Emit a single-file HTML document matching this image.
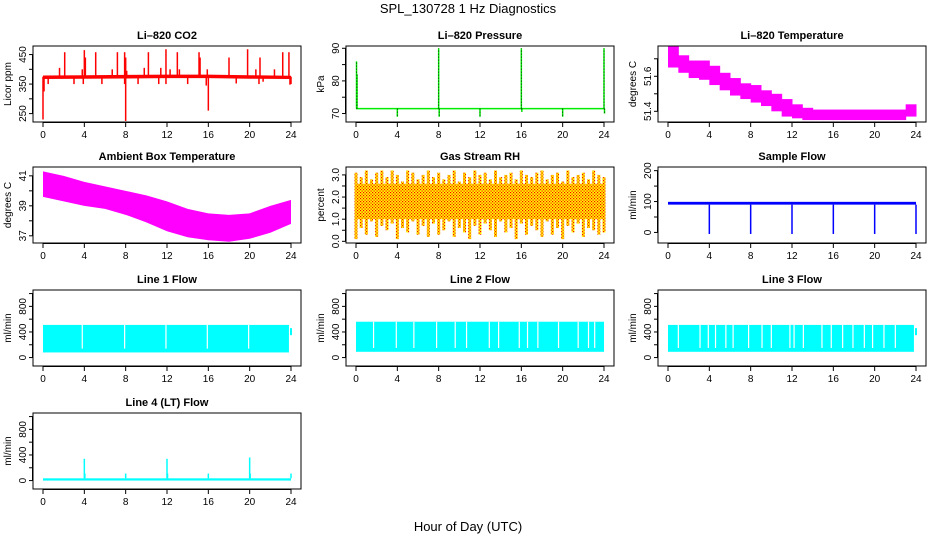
<!DOCTYPE html>
<html><head><meta charset="utf-8"><style>
html,body{margin:0;padding:0;background:#fff;}
svg{display:block;font-family:"Liberation Sans",sans-serif;}
</style></head><body>
<svg id="c" width="936" height="540" viewBox="0 0 936 540">
<defs><pattern id="rhpat" width="3" height="3" patternUnits="userSpaceOnUse"><rect width="3" height="3" fill="#ffff00"/><rect x="0" y="0" width="1.2" height="1.2" fill="#ff0000"/><rect x="1.5" y="1.5" width="1.2" height="1.2" fill="#ff0000"/></pattern></defs>
<text x="468" y="13" text-anchor="middle" font-size="13">SPL_130728  1 Hz Diagnostics</text>
<text x="468" y="531" text-anchor="middle" font-size="13">Hour of Day (UTC)</text>
</svg>
<script>
// ---- data ----
const xTicks=[0,4,8,12,16,20,24];
const coBaseT=[0,4,8,12,16,20,24];
const coBaseLo=[367,368,369,370,370,368,367];
const coBaseHi=[379,380,381,382,382,380,378];
const coSpikeT=[2.1,4.0,4.1,5.1,7.2,7.9,8.0,10.2,11.9,13.0,15.1,15.2,18.0,19.8,21.0,23.2,23.8,1.6,3.8,6.7,8.1,9.8,11.4,12.3,13.2,15.9,20.6,22.4,0.0,0.1,0.5,3.0,3.9,5.7,7.9,8.0,9.2,11.2,11.9,14.0,15.8,16.0,18.7,20.9,21.3,23.9,24.0];
const coSpikeV=[458,465,440,458,458,458,440,458,468,458,458,440,440,468,440,458,458,405,400,400,395,405,405,400,400,400,400,400,230,325,350,350,350,350,350,225,350,350,350,350,345,260,352,350,358,348,350];
const prBase=71.5;
const prSpikeT=[0.05,0.1,8,16,24,4,12,20,8.05,16.05,24.05];
const prSpikeV=[86,82,90,90,90,69,69,69,69,70.5,70];
const ltT=[0,1,2,3,4,5,6,7,8,9,10,11,12,13,14,15,16,17,18,19,20,21,22,23,24];
const ltHi=[51.77,51.72,51.69,51.69,51.66,51.62,51.59,51.56,51.55,51.52,51.50,51.47,51.44,51.42,51.41,51.41,51.41,51.41,51.41,51.41,51.41,51.41,51.41,51.44,51.48];
const ltLo=[51.65,51.62,51.59,51.58,51.55,51.52,51.49,51.47,51.45,51.43,51.40,51.37,51.36,51.35,51.35,51.35,51.35,51.35,51.35,51.35,51.35,51.35,51.35,51.37,51.40];
const abT=[0,2,4,6,8,10,12,14,16,18,20,22,24];
const abHi=[41.3,41.0,40.6,40.3,40.0,39.7,39.3,38.8,38.5,38.4,38.5,39.0,39.4];
const abLo=[39.6,39.3,39.0,38.8,38.4,37.9,37.3,36.9,36.7,36.6,36.8,37.2,37.8];
const rhHi=[3.1,2.9,3.2,2.8,3.1,3.2,2.9,3.2,3.0,2.7,3.2,3.1,2.8,3.0,3.2,2.9,3.1,2.8,3.0,3.2,2.7,3.1,2.9,3.2,3.0,3.1,2.8,3.2,2.9,3.0,3.1,2.8,3.2,3.0,2.9,3.1,3.2,2.8,3.0,3.1,2.7,3.2,2.9,3.0,3.1,2.8,3.2,3.0,2.9];
const rhLo=[0.1,0.6,0.3,0.9,0.2,0.7,0.5,0.8,0.1,0.6,0.4,0.9,0.3,0.7,0.2,0.8,0.3,0.5,0.9,0.2,0.6,0.4,0.1,0.7,0.3,0.8,0.5,0.2,0.9,0.4,0.6,0.1,0.8,0.3,0.7,0.5,0.2,0.9,0.3,0.6,0.1,0.7,0.4,0.8,0.2,0.6,0.5,0.3,0.4];
const rhCoreLo=1.0, rhCoreHi=2.6;
const sfLo=90, sfHi=99;
const sfDipT=[4,8,12,16,20,24];
const sfDipV=[-5,-5,-5,-5,-5,-5];
const l1Lo=80, l1Hi=510, l1End=23.8;
const l1Gaps=[3.8,7.9,11.9,15.9,19.9];
const l2Lo=90, l2Hi=560, l2End=24;
const l2Gaps=[1.7,3.9,5.6,7.8,9.6,10.7,12.9,13.8,15.8,16.6,17.6,19.6,21.5,22.5,23.1];
const l3Lo=90, l3Hi=510, l3End=23.8;
const l3Gaps=[1.0,3.1,3.9,4.6,5.6,6.3,7.8,9.1,10.0,11.8,12.2,13.1,14.9,15.8,16.9,17.9,19.0,19.8,20.9,22.0];
const l4Lo=0, l4Hi=35;
const l4SpikeT=[4,4.05,8,12,12.05,16,20,20.05,24];
const l4SpikeV=[340,110,110,340,110,110,360,110,110];

// ---- layout ----
const NS='http://www.w3.org/2000/svg';
const svg=document.getElementById('c');
const colX=[33,346,658], rowY=[46,167,290,413], W=268, H=76;
function el(tag,attrs,parent){const e=document.createElementNS(NS,tag);for(const k in attrs)e.setAttribute(k,attrs[k]);(parent||svg).appendChild(e);return e;}
function makePanel(col,row,title,ylab,ylim,ticks,labels,name){
  const L=colX[col],T=rowY[row];
  const g=el('g',{});
  
  
  const xs=t=>L+10+t*(W-20)/24;
  const ys=v=>T+H-(v-ylim[0])/(ylim[1]-ylim[0])*H;
  const tt=el('text',{x:L+W/2,y:T-7,'text-anchor':'middle','font-size':11,'font-weight':'bold'},g);tt.textContent=title;
  
  
  const yl=el('text',{x:0,y:0,'text-anchor':'middle','font-size':10,transform:`translate(${L-22},${T+H/2}) rotate(-90)`},g);yl.textContent=ylab;
  
  
  el('line',{x1:L-0.5,x2:L-0.5,y1:ys(ticks[0]),y2:ys(ticks[ticks.length-1]),stroke:'#000'},g);
  ticks.forEach(v=>{el('line',{x1:L-4,x2:L,y1:ys(v),y2:ys(v),stroke:'#000'},g);});
  labels.forEach(v=>{const t=el('text',{x:0,y:0,'text-anchor':'middle','font-size':10,transform:`translate(${L-7},${ys(v)}) rotate(-90)`},g);t.textContent=String(v);
    
    });
  el('line',{x1:xs(0),x2:xs(24),y1:T+H+0.5,y2:T+H+0.5,stroke:'#000'},g);
  xTicks.forEach(v=>{el('line',{x1:xs(v),x2:xs(v),y1:T+H,y2:T+H+5,stroke:'#000'},g);
    const t=el('text',{x:xs(v),y:T+H+16,'text-anchor':'middle','font-size':10},g);t.textContent=String(v);
    
    });
  const d=el('g',{},g);
  
  
  const box=el('rect',{x:L,y:T,width:W,height:H,fill:'none',stroke:'#000'},g);
  
  
  return {g:d,xs,ys};
}
function band(p,ts,lo,hi,fill){
  let pts=ts.map((t,i)=>p.xs(t)+','+p.ys(hi[i]));
  for(let i=ts.length-1;i>=0;i--)pts.push(p.xs(ts[i])+','+p.ys(lo[i]));
  el('polygon',{points:pts.join(' '),fill:fill},p.g);
}
function stepBand(p,ts,lo,hi,fill){
  for(let i=0;i<ts.length-1;i++){
    el('rect',{x:p.xs(ts[i]),y:p.ys(hi[i]),width:p.xs(ts[i+1])-p.xs(ts[i])+0.5,height:p.ys(lo[i])-p.ys(hi[i]),fill:fill},p.g);
  }
}
function vline(p,t,a,b,color,w){el('line',{x1:p.xs(t),x2:p.xs(t),y1:p.ys(a),y2:p.ys(b),stroke:color,'stroke-width':w},p.g);}

// CO2
let p=makePanel(0,0,'Li\u2013820 CO2','Licor ppm',[221.5,479],[250,300,350,400,450],[250,350,450],'co2');
band(p,coBaseT,coBaseLo,coBaseHi,'#ff0000');
coSpikeT.forEach((t,i)=>vline(p,t,375,coSpikeV[i],'#ff0000',1.5));
// Pressure
p=makePanel(1,0,'Li\u2013820 Pressure','kPa',[67.4,90.7],[70,75,80,85,90],[70,80,90],'pressure');
el('line',{x1:p.xs(0),x2:p.xs(24),y1:p.ys(prBase),y2:p.ys(prBase),stroke:'#00ee00','stroke-width':1.5},p.g);
prSpikeT.forEach((t,i)=>{vline(p,t,prBase,prSpikeV[i],'#00ee00',1.5);
  el('line',{x1:p.xs(t),x2:p.xs(t),y1:p.ys(prBase),y2:p.ys(prSpikeV[i]),stroke:'#000','stroke-width':0.8,'stroke-dasharray':'1,2'},p.g);});
// Li temp
p=makePanel(2,0,'Li\u2013820 Temperature','degrees C',[51.339,51.773],[51.4,51.5,51.6,51.7],[51.4,51.6],'licor-temp');
stepBand(p,ltT,ltLo,ltHi,'#ff00ff');
// Ambient
p=makePanel(0,1,'Ambient Box Temperature','degrees C',[36.52,41.59],[37,38,39,40,41],[37,39,41],'ambient-temp');
band(p,abT,abLo,abHi,'#ff00ff');
// RH
p=makePanel(1,1,'Gas Stream RH','percent',[-0.076,3.357],[0,0.5,1,1.5,2,2.5,3],['0.0','1.0','2.0','3.0'],'gas-rh');
rhHi.forEach((v,i)=>el('rect',{x:p.xs(i*0.5)-1.5,y:p.ys(v),width:3,height:p.ys(rhLo[i])-p.ys(v),fill:'url(#rhpat)'},p.g));
el('rect',{x:p.xs(0),y:p.ys(rhCoreHi),width:p.xs(24)-p.xs(0),height:p.ys(rhCoreLo)-p.ys(rhCoreHi),fill:'url(#rhpat)'},p.g);
// Sample flow
p=makePanel(2,1,'Sample Flow','ml/min',[-34.2,211.8],[0,50,100,150,200],[0,100,200],'sample-flow');
el('rect',{x:p.xs(0),y:p.ys(sfHi),width:p.xs(24)-p.xs(0),height:p.ys(sfLo)-p.ys(sfHi),fill:'#0000ff'},p.g);
sfDipT.forEach((t,i)=>vline(p,t,sfLo,sfDipV[i],'#0000ff',1.5));
// Line flows
const fl=[-131.8,1055.7], ft=[0,200,400,600,800,1000], fL=[0,400,800];
function flow(col,row,title,name,lo,hi,end,gaps){
  const q=makePanel(col,row,title,'ml/min',fl,ft,fL,name);
  el('rect',{x:q.xs(0),y:q.ys(hi),width:q.xs(end)-q.xs(0),height:q.ys(lo)-q.ys(hi),fill:'#00ffff'},q.g);
  gaps.forEach(t=>vline(q,t,hi,lo+60,'#ffffff',1.2));
  if(end<24) vline(q,24,350,460,'#00ffff',2);
}
flow(0,2,'Line 1 Flow','line1-flow',l1Lo,l1Hi,l1End,l1Gaps);
flow(1,2,'Line 2 Flow','line2-flow',l2Lo,l2Hi,l2End,l2Gaps);
flow(2,2,'Line 3 Flow','line3-flow',l3Lo,l3Hi,l3End,l3Gaps);
p=makePanel(0,3,'Line 4 (LT) Flow','ml/min',fl,ft,fL,'line4-flow');
el('rect',{x:p.xs(0),y:p.ys(l4Hi),width:p.xs(24)-p.xs(0),height:p.ys(l4Lo)-p.ys(l4Hi),fill:'#00ffff'},p.g);
l4SpikeT.forEach((t,i)=>vline(p,t,l4Hi,l4SpikeV[i],'#00ffff',1.5));
</script>
</body></html>
